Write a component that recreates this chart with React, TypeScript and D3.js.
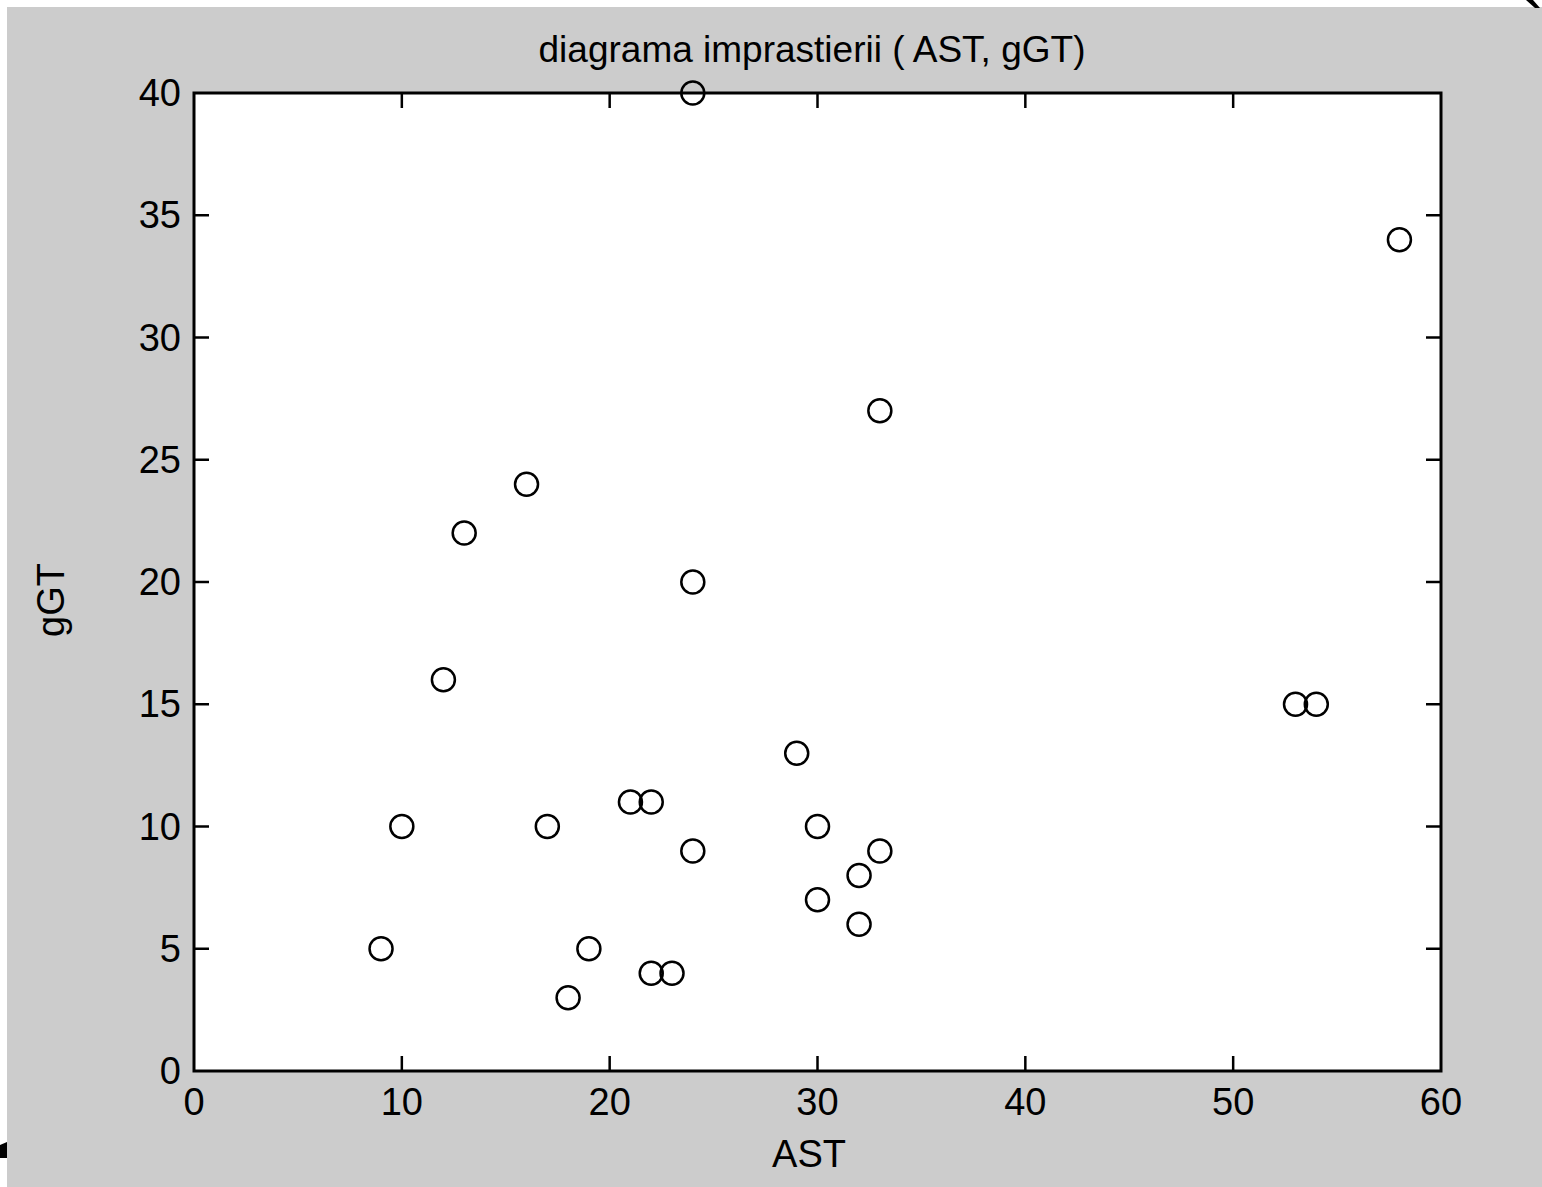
import React from "react";
import { scaleLinear, range } from "d3";

// AST (x) and gGT (y) values
const astValues = [24, 58, 33, 16, 13, 24, 12, 53, 54, 29, 21, 22, 10, 17, 30, 24, 33, 32, 30, 32, 9, 19, 22, 23, 18];
const ggtValues = [40, 34, 27, 24, 22, 20, 16, 15, 15, 13, 11, 11, 10, 10, 10, 9, 9, 8, 7, 6, 5, 5, 4, 4, 3];
const xTicks = [0, 10, 20, 30, 40, 50, 60];
const yTicks = [0, 5, 10, 15, 20, 25, 30, 35, 40];

const title = "diagrama imprastierii ( AST, gGT)";
const xLabel = "AST";
const yLabel = "gGT";

const W = 1542;
const H = 1187;
const plot = { left: 194, top: 93, right: 1441, bottom: 1071 };
const font = "'Liberation Sans', Arial, Helvetica, sans-serif";

const App = () => {
  const x = scaleLinear().domain([0, 60]).range([plot.left, plot.right]);
  const y = scaleLinear().domain([0, 40]).range([plot.bottom, plot.top]);
  const tickLen = 15;

  return (
    <svg
      width={W}
      height={H}
      style={{ position: "absolute", left: 0, top: 0, display: "block" }}
    >
      <rect x={0} y={0} width={W} height={H} fill="#ffffff" />
      <rect x={7} y={7} width={W - 7} height={H - 7} fill="#cccccc" />
      {/* bits of the slide around the figure */}
      <path d="M1526,0 L1533,0 L1540,8 L1535,8 Z" fill="#000" />
      <path d="M0,1145 L7,1142 L7,1158 L0,1158 Z" fill="#000" />

      <rect
        x={plot.left}
        y={plot.top}
        width={plot.right - plot.left}
        height={plot.bottom - plot.top}
        fill="#ffffff"
      />

      {/* ticks on all four sides, pointing in */}
      <g stroke="#000" strokeWidth={2.5}>
        {xTicks.slice(1, -1).map((t) => (
          <g key={"xt" + t}>
            <line x1={x(t)} x2={x(t)} y1={plot.bottom} y2={plot.bottom - tickLen} />
            <line x1={x(t)} x2={x(t)} y1={plot.top} y2={plot.top + tickLen} />
          </g>
        ))}
        {yTicks.slice(1, -1).map((t) => (
          <g key={"yt" + t}>
            <line x1={plot.left} x2={plot.left + tickLen} y1={y(t)} y2={y(t)} />
            <line x1={plot.right} x2={plot.right - tickLen} y1={y(t)} y2={y(t)} />
          </g>
        ))}
      </g>

      <rect
        x={plot.left}
        y={plot.top}
        width={plot.right - plot.left}
        height={plot.bottom - plot.top}
        fill="none"
        stroke="#000"
        strokeWidth={3}
      />

      {/* data */}
      <g fill="none" stroke="#000" strokeWidth={2.5}>
        {range(astValues.length).map((i) => (
          <circle key={i} cx={x(astValues[i])} cy={y(ggtValues[i])} r={11.5} />
        ))}
      </g>

      <g fontFamily={font} fontSize={38} fill="#000">
        {xTicks.map((t) => (
          <text key={"xl" + t} x={x(t)} y={1115} textAnchor="middle">
            {t}
          </text>
        ))}
        {yTicks.map((t) => (
          <text key={"yl" + t} x={181} y={y(t) + 13} textAnchor="end">
            {t}
          </text>
        ))}
        <text x={812} y={62} textAnchor="middle" fontSize={37}>
          {title}
        </text>
        <text x={809} y={1167} textAnchor="middle">
          {xLabel}
        </text>
        <text transform="translate(64,600) rotate(-90)" textAnchor="middle">
          {yLabel}
        </text>
      </g>
    </svg>
  );
};

export default App;
